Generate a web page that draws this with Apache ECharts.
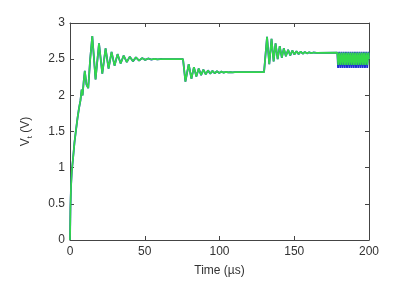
<!DOCTYPE html>
<html><head><meta charset="utf-8">
<script src="https://cdn.jsdelivr.net/npm/echarts@6/dist/echarts.min.js"></script>
<style>html,body{margin:0;padding:0;background:#fff}#c{width:400px;height:282px}</style>
</head><body><div id="c"></div>
<script>
// Tick labels
const xTicks = [0, 50, 100, 150, 200];
const yTicks = [0, 0.5, 1, 1.5, 2, 2.5, 3];

// Shared trace (time µs, voltage V)
const commonTrace = [
  [0,0],[0.3,0.45],[0.7,0.75],[1.2,0.95],[2,1.12],[3,1.35],[4,1.52],[5,1.68],[6,1.82],[7,1.93],
  [7.8,2.08],[8.4,2.0],[9.2,2.2],[9.9,2.34],[11,2.15],[12.2,2.1],[13.5,2.5],
  [14.9,2.82],[17.1,2.22],[19.4,2.72],[21.6,2.3],[23.8,2.65],[25.8,2.37],[27.8,2.6],[29.8,2.41],
  [31.8,2.57],[33.9,2.44],[35.9,2.55],[38,2.46],[40,2.535],[42.1,2.47],[44.1,2.525],[46.2,2.48],
  [48.2,2.515],[50.3,2.49],[52.3,2.51],[54.4,2.495],[56.4,2.505],[58.5,2.498],[60.5,2.502],[62,2.5],
  [75.6,2.5],
  [77.2,2.19],[79.4,2.43],[81.2,2.23],[82.9,2.39],[84.5,2.26],[86.1,2.37],[87.7,2.28],[89.2,2.355],
  [90.8,2.29],[92.3,2.345],[93.8,2.3],[95.3,2.338],[96.8,2.305],[98.3,2.333],[99.8,2.31],[101.3,2.328],
  [102.8,2.314],[104.3,2.325],[105.8,2.317],[107.3,2.322],[108.8,2.318],[110.3,2.321],[112,2.32],
  [129.8,2.32],
  [131.8,2.81],[133.3,2.43],[134.8,2.78],[136.2,2.47],[137.5,2.72],[138.9,2.5],[140.3,2.68],[141.7,2.52],
  [143,2.65],[144.4,2.54],[145.9,2.63],[147.3,2.55],[148.7,2.62],[150.1,2.565],[151.5,2.61],[152.9,2.57],
  [154.3,2.605],[155.7,2.575],[157.1,2.6],[158.5,2.58],[160,2.595],[161.4,2.583],[162.8,2.592],[165,2.588],
  [178.8,2.59]
];

// Final high-frequency section, green trace
const greenTail = [
  [179.4,2.42],[180.2,2.59],[180.9,2.42],[181.7,2.59],[182.4,2.42],[183.2,2.59],[183.9,2.42],[184.7,2.59],
  [185.4,2.42],[186.2,2.59],[186.9,2.42],[187.7,2.59],[188.4,2.42],[189.2,2.59],[189.9,2.42],[190.7,2.59],
  [191.4,2.42],[192.2,2.59],[192.9,2.42],[193.7,2.59],[194.4,2.42],[195.2,2.59],[195.9,2.42],[196.7,2.59],
  [197.4,2.42],[198.2,2.59],[198.9,2.42],[199.7,2.59],[200,2.5]
];
// Final high-frequency section, blue trace
const blueTail = [
  [179.3,2.38],[180.1,2.6],[180.8,2.38],[181.6,2.6],[182.3,2.38],[183.1,2.6],[183.8,2.38],[184.6,2.6],
  [185.3,2.38],[186.1,2.6],[186.8,2.38],[187.6,2.6],[188.3,2.38],[189.1,2.6],[189.8,2.38],[190.6,2.6],
  [191.3,2.38],[192.1,2.6],[192.8,2.38],[193.6,2.6],[194.3,2.38],[195.1,2.6],[195.8,2.38],[196.6,2.6],
  [197.3,2.38],[198.1,2.6],[198.8,2.38],[199.6,2.6],[200,2.5]
];

const FONT = 'Liberation Sans';
const AX = '#444';
const chart = echarts.init(document.getElementById('c'), null, {renderer:'canvas'});
const baseX = {
  type:'value', min:xTicks[0], max:xTicks[xTicks.length-1], interval:xTicks[1]-xTicks[0],
  axisLine:{show:true, onZero:false, lineStyle:{color:AX, width:1}},
  axisTick:{show:true, inside:true, length:4, lineStyle:{color:AX}},
  splitLine:{show:false}
};
const baseY = {
  type:'value', min:yTicks[0], max:yTicks[yTicks.length-1], interval:yTicks[1]-yTicks[0],
  axisLine:{show:true, onZero:false, lineStyle:{color:AX, width:1}},
  axisTick:{show:true, inside:true, length:4, lineStyle:{color:AX}},
  splitLine:{show:false}
};
chart.setOption({
  animation:false,
  backgroundColor:'#fff',
  grid:{left:70, right:31, top:23, bottom:39, containLabel:false},
  xAxis:[
    Object.assign({}, baseX, {position:'bottom',
      axisLabel:{show:true, color:'#333', fontFamily:FONT, fontSize:12, margin:6},
      name:'Time (\u00b5s)', nameLocation:'middle', nameGap:25,
      nameTextStyle:{color:'#333', fontFamily:FONT, fontSize:12}}),
    Object.assign({}, baseX, {position:'top', axisLabel:{show:false}})
  ],
  yAxis:[
    Object.assign({}, baseY, {position:'left',
      axisLabel:{show:true, color:'#333', fontFamily:FONT, fontSize:12, margin:5},
      name:'{a|V}{b|t}{a| (V)}', nameLocation:'middle', nameGap:36,
      nameTextStyle:{color:'#333', fontFamily:FONT, fontSize:12,
        rich:{a:{fontFamily:FONT, fontSize:12, color:'#333', lineHeight:16, verticalAlign:'middle'},
              b:{fontFamily:FONT, fontSize:8, color:'#333', lineHeight:16, verticalAlign:'bottom'}}}}),
    Object.assign({}, baseY, {position:'right', axisLabel:{show:false}})
  ],
  series:[
    {type:'line', xAxisIndex:0, yAxisIndex:0, showSymbol:false, data:commonTrace.concat(blueTail),
     lineStyle:{color:'#1f2fd0', width:1.8}, z:2},
    {type:'line', xAxisIndex:0, yAxisIndex:0, showSymbol:false, data:commonTrace.concat(greenTail),
     lineStyle:{color:'#33d84a', width:1.7}, z:3}
  ]
});
</script></body></html>
